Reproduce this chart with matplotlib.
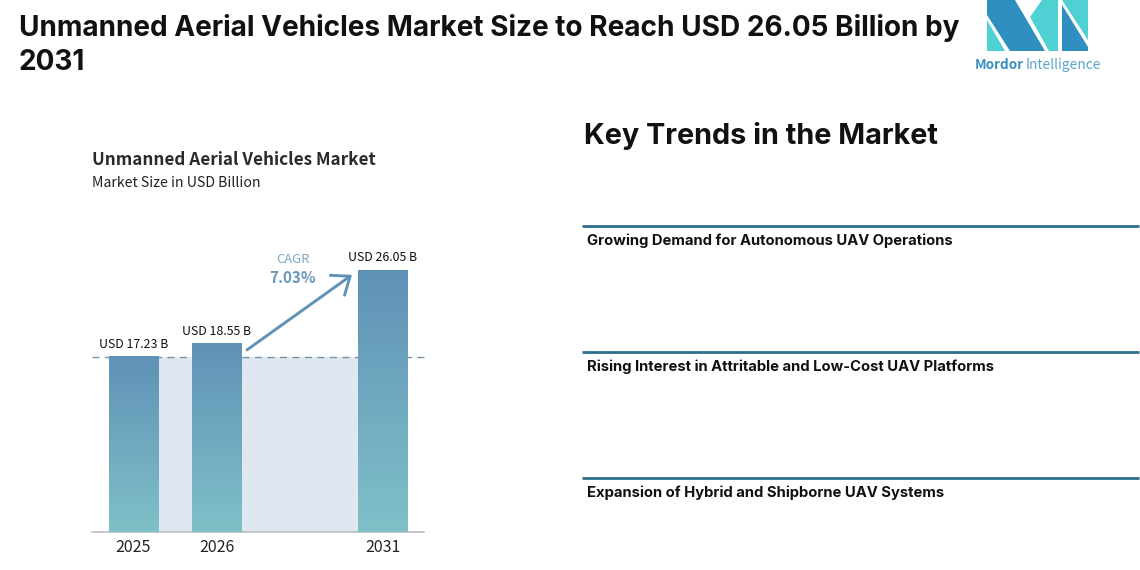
import numpy as np
import matplotlib
matplotlib.use('Agg')
import matplotlib.pyplot as plt
from matplotlib.patches import Polygon, FancyArrowPatch

plt.rcParams['font.family'] = ['Inter', 'DejaVu Sans']
chart_font = ['Noto Sans CJK KR', 'DejaVu Sans']

years = ['2025', '2026', '2031']
positions = [0, 1, 3]
values = [17.23, 18.55, 26.05]
value_labels = ['USD 17.23 B', 'USD 18.55 B', 'USD 26.05 B']
trends = ['Growing Demand for Autonomous UAV Operations',
          'Rising Interest in Attritable and Low-Cost UAV Platforms',
          'Expansion of Hybrid and Shipborne UAV Systems']
trend_rule_y = [226, 352, 478]

W, H = 1140, 570
fig = plt.figure(figsize=(W / 100, H / 100), dpi=100)

# overlay in pixel coords, y pointing down
bg = fig.add_axes([0, 0, 1, 1])
bg.set_xlim(0, W)
bg.set_ylim(H, 0)
bg.axis('off')

bg.text(19, 28, 'Unmanned Aerial Vehicles Market Size to Reach USD 26.05 Billion by',
        fontsize=20.15, fontweight='bold', va='center', color='#111111')
bg.text(19, 63, '2031', fontsize=20.15, fontweight='bold', va='center', color='#111111')

# logo
dark = '#2e8fc0'
teal = '#4fd0d3'
bg.add_patch(Polygon([(987, 0), (1015, 0), (1045, 51), (1010, 51), (987, 15)], color=dark, lw=0))
bg.add_patch(Polygon([(987, 20), (1005, 51), (987, 51)], color=teal, lw=0))
bg.add_patch(Polygon([(1030, 17), (1042, 0), (1058, 0), (1058, 51), (1049, 51)], color=teal, lw=0))
bg.add_patch(Polygon([(1062, 5), (1088, 47), (1088, 51), (1062, 51)], color=dark, lw=0))
bg.add_patch(Polygon([(1062, 0), (1088, 0), (1088, 40)], color=teal, lw=0))
bg.text(974.5, 65, 'Mordor', fontsize=9.7, fontweight='bold', va='center', family=chart_font, color='#3a8fbf')
bg.text(1026, 65, 'Intelligence', fontsize=9.9, va='center', family=chart_font, color='#5aa5cc')

# chart titles
bg.text(92, 160, 'Unmanned Aerial Vehicles Market', fontsize=12.3, fontweight='bold',
        va='center', family=chart_font, color='#2a2a2a')
bg.text(92, 183, 'Market Size in USD Billion', fontsize=10.2, va='center', family=chart_font, color='#222222')

# right panel
bg.text(584, 136, 'Key Trends in the Market', fontsize=20.75, fontweight='bold', va='center', color='#111111')
for y, t in zip(trend_rule_y, trends):
    bg.plot([582, 1139], [y, y], color='#2b6f8c', lw=2, solid_capstyle='butt')
    bg.text(587, y + 15, t, fontsize=10.67, fontweight='bold', va='center', color='#111111')

# bar chart, x in category slots, y in USD bn
ax = fig.add_axes([92 / W, (H - 532) / H, (424 - 92) / W, 300 / H])
ax.patch.set_alpha(0)
ybot = -0.52
ytop = ybot + 300 / 9.86
bar_w = 0.6

x0, x1 = positions[0] - bar_w / 2, positions[-1] + bar_w / 2
ax.fill_between([x0, x1], ybot, values[0], color='#dfe8f0', lw=0, zorder=1)
ax.plot([-0.5, 3.53], [values[0], values[0]], color='#6f95ad', lw=1, ls=(0, (5, 4)), zorder=2, clip_on=False)

grad = np.linspace(0, 1, 256).reshape(-1, 1, 1)
top_c = np.array([0x5f, 0x92, 0xb7]).reshape(1, 1, 3) / 255
bot_c = np.array([0x80, 0xc0, 0xc8]).reshape(1, 1, 3) / 255
img = top_c * (1 - grad) + bot_c * grad
for p, v, lab in zip(positions, values, value_labels):
    ax.imshow(img, extent=[p - bar_w / 2, p + bar_w / 2, ybot, v], aspect='auto', zorder=3)
    ax.text(p, v + 1.3, lab, ha='center', va='center', fontsize=8.9, color='#111111',
            fontweight='medium', family=chart_font)
ax.set_xlim(-0.4994, 3.496)
ax.set_ylim(ybot, ytop)

ax.add_patch(FancyArrowPatch((1.366, 17.95), (2.63, 25.56),
                             arrowstyle='->,head_length=7,head_width=5.5', color='#5f92b7',
                             lw=2.1, mutation_scale=1.6, shrinkA=0, shrinkB=0, zorder=4))
ax.text(1.92, 27.08, 'CAGR', ha='center', va='center', fontsize=9.4, color='#7fa6c2', family=chart_font)
ax.text(1.92, 25.25, '7.03%', ha='center', va='center', fontsize=11, fontweight='bold', color='#6a97b8',
        family=chart_font)

ax.set_xticks(positions, years, family=chart_font)
ax.tick_params(axis='x', length=0, pad=5, labelsize=11.5, labelcolor='#222222')
ax.set_yticks([])
for s in ['top', 'left', 'right']:
    ax.spines[s].set_visible(False)
ax.spines['bottom'].set_color('#bdbdbd')
ax.spines['bottom'].set_linewidth(1.2)

fig.savefig('out.png', dpi=100)
